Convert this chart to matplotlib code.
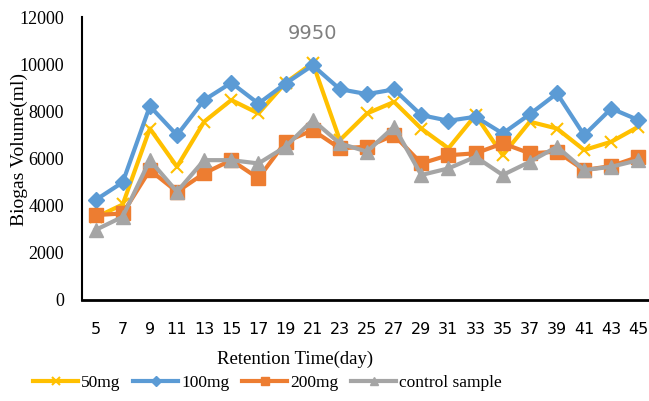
""" Biogas volume over retention time for the four samples """
from matplotlib import pyplot as plt
import numpy as np

COLOR_50 = "#FFC000"
COLOR_100 = "#5B9BD5"
COLOR_200 = "#ED7D31"
COLOR_CTRL = "#A5A5A5"

days = [5, 7, 9, 11, 13, 15, 17, 19, 21, 23, 25, 27, 29, 31, 33, 35, 37, 39, 41, 43, 45]
mg50 = [3500, 4050, 7270, 5650, 7560, 8480, 7910, 9210, 10050, 6780, 7910, 8400,
        7270, 6430, 7840, 6140, 7560, 7270, 6360, 6710, 7350]
mg100 = [4240, 4990, 8220, 6990, 8480, 9210, 8330, 9180, 9950, 8940, 8730, 8930,
         7840, 7600, 7770, 7060, 7880, 8760, 6990, 8120, 7630]
mg200 = [3600, 3670, 5510, 4590, 5370, 5930, 5160, 6710, 7200, 6430, 6500, 6990,
         5790, 6140, 6220, 6640, 6220, 6290, 5510, 5680, 6070]
control = [2970, 3530, 5930, 4590, 5930, 5930, 5790, 6500, 7630, 6640, 6290, 7350,
           5300, 5580, 6070, 5300, 5860, 6500, 5510, 5650, 5930]

fig = plt.figure(figsize=(6.49, 4.01), dpi=100)
ax = fig.add_axes([82 / 649, 1 - 300 / 401, 570 / 649, 283 / 401])

x = np.arange(len(days))
ax.plot(x, mg50, color=COLOR_50, lw=3, marker="x", ms=9, mew=1.5, label="50mg")
ax.plot(x, mg100, color=COLOR_100, lw=3, marker="D", ms=8, label="100mg")
ax.plot(x, mg200, color=COLOR_200, lw=3, marker="s", ms=10, label="200mg")
ax.plot(x, control, color=COLOR_CTRL, lw=3, marker="^", ms=10, label="control sample")

# data label on the 100mg peak
peak = int(np.argmax(mg100))
ax.annotate(f"{mg100[peak]}", (x[peak], mg100[peak]), xytext=(0, 23), textcoords="offset points",
            ha="center", va="center", fontsize=14, color="#7F7F7F", family="DejaVu Sans")

ax.set_xlim(-0.5, len(days) - 0.5)
ax.set_ylim(0, 12000)
ax.set_yticks(np.arange(0, 12001, 2000))
ax.set_xticks(x)
ax.set_xticklabels([str(d) for d in days], fontsize=11.5, family="DejaVu Sans")
ax.tick_params(axis="x", length=0, pad=16)
ax.tick_params(axis="y", length=0, pad=13)
for lab in ax.get_yticklabels():
    lab.set_family("Liberation Serif")
    lab.set_fontsize(13)

for s in ["top", "right"]:
    ax.spines[s].set_visible(False)
ax.spines["left"].set_linewidth(1.5)
ax.spines["bottom"].set_linewidth(2)

fig.text(19 / 649, 1 - 150 / 401, "Biogas Volume(ml)", rotation=90, ha="center", va="center",
         fontsize=14, family="Liberation Serif")
fig.text(295 / 649, 1 - 359 / 401, "Retention Time(day)", ha="center", va="center",
         fontsize=13.5, family="Liberation Serif")

fig.legend(loc="center left", bbox_to_anchor=(33 / 649, 1 - 383 / 401), ncols=4, frameon=False,
           prop={"family": "Liberation Serif", "size": 12.5}, handlelength=2.6, handletextpad=0.15,
           columnspacing=0.75, borderaxespad=0, borderpad=0, markerscale=0.6)

fig.savefig("out.png", dpi=100)
